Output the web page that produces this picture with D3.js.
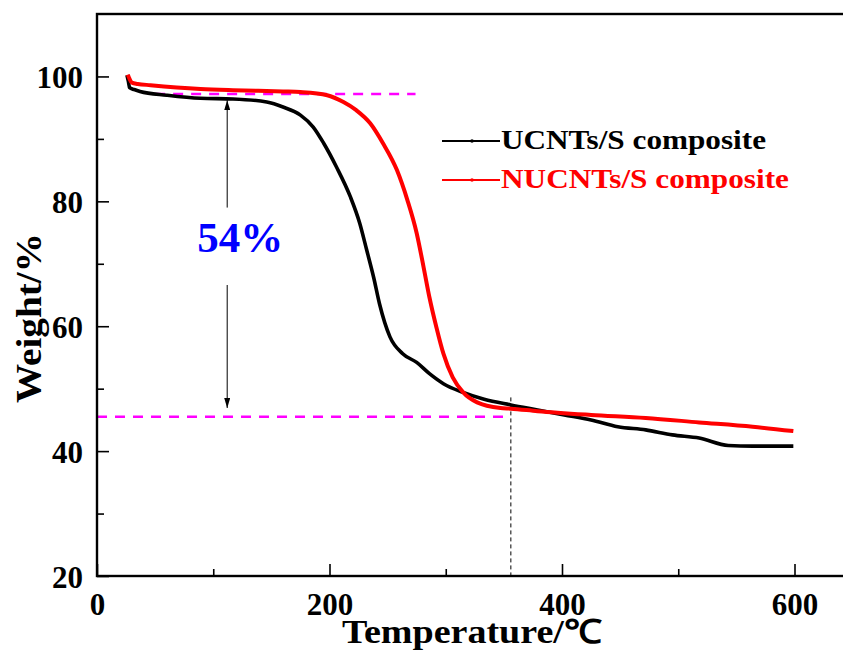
<!DOCTYPE html>
<html>
<head>
<meta charset="utf-8">
<script src="https://cdnjs.cloudflare.com/ajax/libs/d3/7.8.5/d3.min.js"></script>
<style>
  body { margin: 0; background: #fff; }
  svg { display: block; }
  text { font-family: "Liberation Serif", "Times New Roman", serif; font-weight: bold; }
</style>
</head>
<body>
<div id="chart"></div>
<script>
// TGA curves: temperature (°C) and weight (%)
var ucntsTemp = [25.8, 27, 28, 32, 37, 60, 89, 117, 146, 160, 175, 186, 195, 206, 218, 226, 232, 238, 243, 252, 263, 275, 286, 298, 315, 333, 356, 379, 402, 425, 448, 472, 495, 518, 543, 564, 599];
var ucntsWeight = [100.2, 99.2, 98.2, 97.9, 97.6, 97.0, 96.5, 96.4, 95.9, 95.1, 93.8, 91.9, 89.3, 85.5, 80.7, 76.5, 72.2, 67.8, 63.6, 58.3, 55.6, 54.2, 52.4, 50.8, 49.4, 48.3, 47.4, 46.6, 45.8, 45.0, 43.9, 43.4, 42.6, 42.1, 40.9, 40.8, 40.8];
var nucntsTemp = [26.5, 28, 30, 35, 46, 89, 117, 160, 175, 198, 212, 223, 235, 246, 258, 267, 275, 281, 286, 292, 298, 306, 315, 327, 347, 356, 379, 425, 472, 518, 564, 599];
var nucntsWeight = [100.3, 99.6, 99.0, 98.8, 98.6, 98.0, 97.8, 97.6, 97.5, 97.0, 95.9, 94.6, 92.5, 89.3, 85.0, 80.2, 74.9, 69.4, 64.6, 59.8, 55.6, 51.8, 49.4, 47.8, 46.9, 46.8, 46.4, 45.8, 45.3, 44.6, 43.9, 43.2];

var seriesNames = ["UCNTs/S composite", "NUCNTs/S composite"];
var xTicks = [0, 200, 400, 600];
var xMinorTicks = [100, 300, 500];
var yTicks = [20, 40, 60, 80, 100];
var yMinorTicks = [30, 50, 70, 90];

// annotation values
var upperLevel = 97.2, upperFrom = 50, upperTo = 274;
var lowerLevel = 45.5, lowerTo = 356;
var arrowTemp = 112, arrowTop = 96.2, arrowBottom = 46.9, gapTop = 79.0, gapBottom = 66.6;
var dropLabel = "54%";

var width = 843, height = 657;
var margin = { top: 14, left: 97, bottom: 81 };
var x = d3.scaleLinear().domain([0, 650]).range([margin.left, margin.left + 650 * 1.1625]);
var y = d3.scaleLinear().domain([20, 110]).range([height - margin.bottom, margin.top]);

var svg = d3.select("#chart").append("svg").attr("width", width).attr("height", height);

function zip(t, w) {
  return t.map(function (d, i) { return [d, w[i]]; });
}
var line = d3.line()
  .x(function (d) { return x(d[0]); })
  .y(function (d) { return y(d[1]); })
  .curve(d3.curveMonotoneX);

// dashed guide lines
svg.append("line")
  .attr("x1", x(upperFrom)).attr("x2", x(upperTo))
  .attr("y1", y(upperLevel)).attr("y2", y(upperLevel))
  .attr("stroke", "#ff00ff").attr("stroke-width", 2.4).attr("stroke-dasharray", "10,8");
svg.append("line")
  .attr("x1", x(0)).attr("x2", x(lowerTo))
  .attr("y1", y(lowerLevel)).attr("y2", y(lowerLevel))
  .attr("stroke", "#ff00ff").attr("stroke-width", 2.4).attr("stroke-dasharray", "10,8");
svg.append("line")
  .attr("x1", x(lowerTo)).attr("x2", x(lowerTo))
  .attr("y1", y(48.6)).attr("y2", y(20))
  .attr("stroke", "#000").attr("stroke-width", 1).attr("stroke-dasharray", "4,3");

// curves
svg.append("path")
  .datum(zip(ucntsTemp, ucntsWeight))
  .attr("d", line)
  .attr("fill", "none").attr("stroke", "#000").attr("stroke-width", 3.6);
svg.append("path")
  .datum(zip(nucntsTemp, nucntsWeight))
  .attr("d", line)
  .attr("fill", "none").attr("stroke", "#ff0000").attr("stroke-width", 4);

// double arrow
var defs = svg.append("defs");
defs.append("marker")
  .attr("id", "arrow")
  .attr("viewBox", "0 0 10 6")
  .attr("refX", 10).attr("refY", 3)
  .attr("markerWidth", 10).attr("markerHeight", 6)
  .attr("markerUnits", "userSpaceOnUse")
  .attr("orient", "auto")
  .append("path").attr("d", "M0,0L10,3L0,6Z").attr("fill", "#000");
svg.append("line")
  .attr("x1", x(arrowTemp)).attr("x2", x(arrowTemp))
  .attr("y1", y(gapTop)).attr("y2", y(arrowTop))
  .attr("stroke", "#000").attr("stroke-width", 1).attr("marker-end", "url(#arrow)");
svg.append("line")
  .attr("x1", x(arrowTemp)).attr("x2", x(arrowTemp))
  .attr("y1", y(gapBottom)).attr("y2", y(arrowBottom))
  .attr("stroke", "#000").attr("stroke-width", 1).attr("marker-end", "url(#arrow)");
svg.append("text")
  .attr("x", x(arrowTemp) + 13).attr("y", 252)
  .attr("text-anchor", "middle")
  .attr("fill", "#0000ff")
  .style("font-size", "43px")
  .text(dropLabel);

// axes, ticks point inward
var gx = svg.append("g").attr("transform", "translate(0," + y(20) + ")");
gx.call(d3.axisBottom(x).tickValues(xTicks).tickSizeInner(-12).tickSizeOuter(0).tickPadding(23).tickFormat(d3.format("d")));
gx.append("g").call(d3.axisBottom(x).tickValues(xMinorTicks).tickSizeInner(-7).tickSizeOuter(0).tickFormat(""));
var gy = svg.append("g").attr("transform", "translate(" + x(0) + ",0)");
gy.call(d3.axisLeft(y).tickValues(yTicks).tickSizeInner(-12).tickSizeOuter(0).tickPadding(14).tickFormat(d3.format("d")));
gy.append("g").call(d3.axisLeft(y).tickValues(yMinorTicks).tickSizeInner(-7).tickSizeOuter(0).tickFormat(""));
svg.selectAll(".tick line").attr("stroke", "#000").attr("stroke-width", 1.6);
svg.selectAll(".domain").remove();
gx.selectAll("text").style("font-size", "31px").attr("fill", "#000").attr("dy", "0.5em");
gy.selectAll("text").style("font-size", "31px").attr("fill", "#000").attr("dy", "0.36em");

// frame
svg.append("rect")
  .attr("x", x(0)).attr("y", y(110))
  .attr("width", x(650) - x(0)).attr("height", y(20) - y(110))
  .attr("fill", "none").attr("stroke", "#000").attr("stroke-width", 2.4);

// axis titles
svg.append("text")
  .attr("x", 342).attr("y", 643)
  .attr("textLength", 260).attr("lengthAdjust", "spacingAndGlyphs")
  .style("font-size", "33px")
  .text("Temperature/℃");
svg.append("text")
  .attr("transform", "translate(41,403) rotate(-90)")
  .attr("textLength", 170).attr("lengthAdjust", "spacingAndGlyphs")
  .style("font-size", "36px")
  .text("Weight/%");

// legend
var legendColors = ["#000", "#ff0000"];
var legendLengths = [265, 288];
var legend = svg.append("g").selectAll("g").data(seriesNames).enter().append("g")
  .attr("transform", function (d, i) { return "translate(442," + (141 + i * 39) + ")"; });
legend.append("line")
  .attr("x1", 0).attr("x2", 58).attr("y1", 0).attr("y2", 0)
  .attr("stroke", function (d, i) { return legendColors[i]; })
  .attr("stroke-width", 2);
legend.append("circle")
  .attr("cx", 30).attr("cy", 0).attr("r", 1.8)
  .attr("fill", function (d, i) { return legendColors[i]; });
legend.append("text")
  .attr("x", 59).attr("y", 8)
  .attr("textLength", function (d, i) { return legendLengths[i]; })
  .attr("lengthAdjust", "spacingAndGlyphs")
  .attr("fill", function (d, i) { return legendColors[i]; })
  .style("font-size", "27px")
  .text(function (d) { return d; });
</script>
</body>
</html>
